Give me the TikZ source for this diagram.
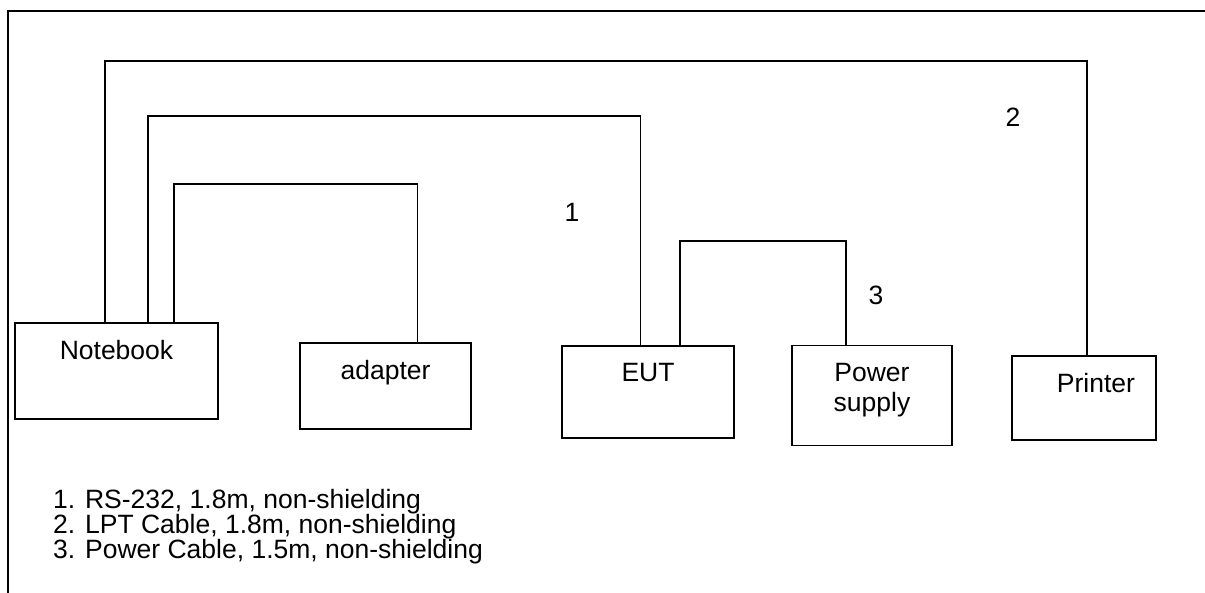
\documentclass[tikz,border=0pt]{standalone}
\usepackage{fontspec}
\setmainfont{Liberation Sans}
\usetikzlibrary{positioning,calc}

\begin{document}
\begin{tikzpicture}[x=1pt,y=-1pt,
  every node/.style={font=\fontsize{26.5}{30}\selectfont},
  unit/.style={draw,line width=1.8pt,rectangle,inner sep=0pt},
  lbl/.style={anchor=north,inner sep=0pt,yshift=-18,align=center},
  cable/.style={line width=1.6pt},
  frame/.style={line width=2.4pt}]
\useasboundingbox (0,0) rectangle (1205,593);
\draw[frame] (1205,11) -| (8,593);
\node[unit,minimum width=203,minimum height=96,label={[lbl]north:Notebook}] (nb) at (116.5,371) {};
\node[unit,minimum width=171,minimum height=86,label={[lbl]north:adapter}] (ad) at (385.5,386) {};
\node[unit,minimum width=172,minimum height=92,label={[lbl]north:EUT}] (eut) at (648,392) {};
\node[unit,minimum width=160,minimum height=100,label={[lbl]north:Power\\supply}] (psu) at (872,395.5) {};
\node[unit,minimum width=144,minimum height=84,label={[lbl,xshift=12]north:Printer}] (pr) at (1084,398) {};
\draw[cable] ([xshift=-11.5]nb.north) -- ++(0,-261) -| ([xshift=3]pr.north);
\draw[cable] ([xshift=31.5]nb.north) -- ++(0,-206) -| ([xshift=-7.5]eut.north);
\draw[cable] ([xshift=57.5]nb.north) -- ++(0,-138) -| ([xshift=32]ad.north);
\draw[cable] ([xshift=32]eut.north) -- ++(0,-104) -| ([xshift=-26]psu.north);
\node[anchor=base,inner sep=0pt] (n1) at (572,222) {1};
\node[anchor=base,inner sep=0pt] (n2) at (1013,127) {2};
\node[anchor=base,inner sep=0pt] (n3) at (876,305) {3};
\foreach \k/\t in {1/{RS-232, 1.8m, non-shielding},2/{LPT Cable, 1.8m, non-shielding},3/{Power Cable, 1.5m, non-shielding}}{\node[anchor=base west,inner sep=0pt] (leg\k) at (53,483+25*\k) {\k. \t};}
\end{tikzpicture}
\end{document}
